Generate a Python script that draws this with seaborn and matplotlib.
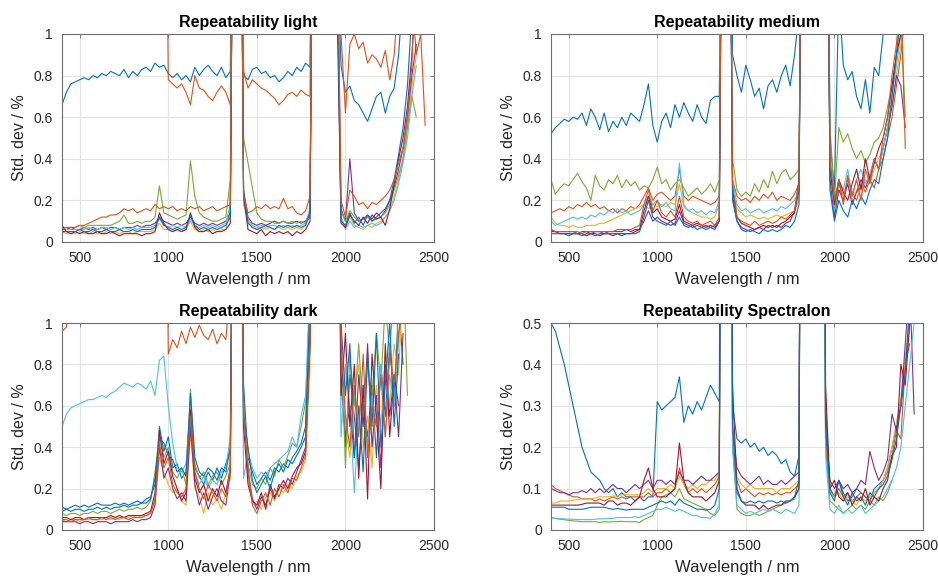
import numpy as np
import matplotlib
matplotlib.use("Agg")
import matplotlib.pyplot as plt
import seaborn as sns
from matplotlib.ticker import FormatStrFormatter, MultipleLocator

sns.set_style("white")
plt.rcParams['font.family'] = ['Liberation Sans', 'DejaVu Sans']

nan = np.nan
OFF = 3.0  # above the visible range (saturated water bands)

wavelength = list(range(400, 2451, 25))

BLUE, ORANGE, YELLOW, PURPLE = '#0072BD', '#D95319', '#EDB120', '#7E2F8E'
GREEN, CYAN, DARKRED = '#77AC30', '#4DBEEE', '#A2142F'

# ---------------- Repeatability light ----------------
L_blue1 = [
0.66,0.72,0.76,0.77,0.78,0.79,0.78,0.80,0.79,0.81,
0.80,0.82,0.81,0.80,0.83,0.79,0.82,0.80,0.83,0.84,
0.82,0.86,0.84,0.85,0.81,0.79,0.81,0.78,0.80,0.77,
0.84,0.80,0.83,0.85,0.82,0.80,0.84,0.79,0.82,OFF,
OFF,0.80,0.78,0.83,0.84,0.81,0.82,0.79,0.80,0.77,
0.79,0.82,0.80,0.84,0.82,0.86,0.84,OFF,OFF,OFF,
OFF,OFF,1.5,0.85,0.72,0.75,0.68,0.66,0.62,0.58,
0.64,0.70,0.72,0.62,0.70,0.74,0.90,1.2,1.5,2.0,
2.0,nan,nan]
L_orange1 = [
OFF,OFF,OFF,OFF,OFF,OFF,OFF,OFF,OFF,OFF,
OFF,OFF,OFF,OFF,OFF,OFF,OFF,OFF,OFF,OFF,
OFF,OFF,OFF,OFF,0.78,0.76,0.74,0.76,0.72,0.66,
0.80,0.74,0.73,0.70,0.68,0.72,0.75,0.72,0.66,OFF,
OFF,0.82,0.74,0.78,0.76,0.74,0.73,0.71,0.69,0.66,
0.68,0.71,0.72,0.70,0.73,0.71,0.70,OFF,OFF,OFF,
OFF,OFF,2.0,1.0,0.62,0.95,1.0,0.93,0.96,0.86,
0.90,0.88,0.84,0.92,0.78,0.90,1.2,1.5,1.5,1.2,
0.9,1.0,0.56]
L_yellow = [
0.05,0.04,0.04,0.04,0.05,0.04,0.04,0.05,0.04,0.04,
0.05,0.04,0.05,0.04,0.05,0.05,0.04,0.05,0.05,0.05,
0.05,0.06,0.09,0.06,0.06,0.05,0.06,0.05,0.06,0.10,
0.06,0.05,0.06,0.05,0.06,0.05,0.06,0.06,0.15,OFF,
OFF,0.18,0.10,0.07,0.06,0.07,0.06,0.07,0.06,0.07,
0.06,0.07,0.06,0.07,0.06,0.08,0.15,OFF,OFF,OFF,
OFF,OFF,1.5,0.12,0.07,0.12,0.08,0.07,0.06,0.08,
0.07,0.09,0.10,0.12,0.15,0.22,0.30,0.40,0.55,0.75,
0.90,nan,nan]
L_purple = [
0.06,0.06,0.07,0.06,0.06,0.07,0.06,0.07,0.06,0.07,
0.06,0.07,0.07,0.06,0.07,0.07,0.07,0.08,0.07,0.08,
0.08,0.09,0.12,0.10,0.09,0.08,0.09,0.08,0.09,0.12,
0.09,0.08,0.09,0.08,0.09,0.08,0.09,0.10,0.14,OFF,
OFF,0.25,0.12,0.09,0.08,0.09,0.08,0.09,0.10,0.09,
0.10,0.09,0.09,0.10,0.09,0.10,0.14,OFF,OFF,OFF,
OFF,OFF,1.7,0.16,0.10,0.40,0.14,0.10,0.11,0.13,
0.11,0.14,0.12,0.15,0.20,0.26,0.35,0.45,0.60,0.80,
0.95,nan,nan]
L_green = [
0.07,0.07,0.07,0.07,0.08,0.07,0.08,0.08,0.08,0.08,
0.08,0.08,0.09,0.10,0.13,0.09,0.09,0.10,0.09,0.10,
0.10,0.12,0.27,0.14,0.13,0.12,0.11,0.12,0.13,0.39,
0.22,0.14,0.12,0.11,0.10,0.10,0.11,0.12,0.30,OFF,
OFF,0.50,0.38,0.26,0.14,0.11,0.10,0.10,0.09,0.09,
0.10,0.09,0.10,0.09,0.10,0.09,0.12,OFF,OFF,OFF,
OFF,OFF,1.6,0.15,0.10,0.15,0.12,0.10,0.11,0.12,
0.10,0.11,0.12,0.14,0.18,0.25,0.32,0.40,0.55,0.70,
0.60,nan,nan]
L_cyan = [
0.06,0.06,0.06,0.06,0.06,0.06,0.07,0.06,0.06,0.07,
0.07,0.06,0.07,0.06,0.07,0.06,0.07,0.06,0.07,0.07,
0.07,0.08,0.11,0.08,0.07,0.08,0.07,0.08,0.07,0.11,
0.08,0.07,0.08,0.07,0.08,0.07,0.08,0.09,0.18,OFF,
OFF,0.20,0.11,0.08,0.07,0.08,0.07,0.08,0.08,0.07,
0.08,0.07,0.08,0.07,0.08,0.09,0.16,OFF,OFF,OFF,
OFF,OFF,1.4,0.12,0.06,0.10,0.07,0.08,0.07,0.08,
0.09,0.08,0.09,0.12,0.15,0.20,0.28,0.38,0.50,0.70,
0.85,nan,nan]
L_darkred = [
0.08,0.05,0.04,0.05,0.04,0.05,0.04,0.04,0.05,0.04,
0.04,0.05,0.04,0.03,0.04,0.04,0.04,0.04,0.03,0.04,
0.04,0.05,0.14,0.09,0.06,0.05,0.06,0.05,0.06,0.14,
0.07,0.05,0.05,0.06,0.04,0.05,0.05,0.06,0.09,OFF,
OFF,0.22,0.06,0.05,0.04,0.06,0.03,0.05,0.04,0.05,
0.04,0.05,0.03,0.05,0.04,0.06,0.10,OFF,OFF,OFF,
OFF,OFF,1.3,0.09,0.07,0.13,0.10,0.08,0.12,0.09,
0.13,0.11,0.12,0.08,0.16,0.28,0.40,0.50,0.65,0.90,
1.20,nan,nan]
L_blue2 = [
0.05,0.05,0.05,0.05,0.06,0.05,0.05,0.06,0.05,0.05,
0.06,0.05,0.05,0.06,0.05,0.05,0.06,0.05,0.06,0.06,
0.06,0.07,0.12,0.08,0.07,0.06,0.07,0.06,0.07,0.13,
0.08,0.06,0.07,0.06,0.07,0.06,0.07,0.08,0.12,OFF,
OFF,0.24,0.09,0.07,0.06,0.07,0.08,0.07,0.06,0.08,
0.07,0.08,0.07,0.08,0.07,0.08,0.14,OFF,OFF,OFF,
OFF,OFF,1.5,0.10,0.08,0.14,0.09,0.12,0.08,0.13,
0.10,0.12,0.14,0.16,0.20,0.30,0.42,0.55,0.75,1.10,
1.50,nan,nan]
L_orange2 = [
0.06,0.07,0.07,0.07,0.08,0.08,0.09,0.10,0.11,0.12,
0.12,0.13,0.13,0.14,0.16,0.15,0.16,0.14,0.15,0.16,
0.15,0.18,0.16,0.17,0.16,0.17,0.15,0.16,0.15,0.17,
0.16,0.17,0.15,0.16,0.17,0.15,0.16,0.17,0.18,OFF,
OFF,0.22,0.14,0.15,0.17,0.16,0.18,0.16,0.17,0.16,
0.21,0.16,0.17,0.14,0.13,0.15,0.22,OFF,OFF,OFF,
OFF,OFF,1.8,0.20,0.12,0.25,0.22,0.18,0.19,0.16,
0.19,0.18,0.20,0.22,0.25,0.30,0.38,0.45,0.60,0.85,
1.50,nan,nan]

# ---------------- Repeatability medium ----------------
M_blue1 = [
0.52,0.55,0.57,0.59,0.58,0.60,0.59,0.62,0.56,0.64,
0.60,0.54,0.62,0.53,0.58,0.55,0.60,0.56,0.62,0.60,
0.58,0.66,0.76,0.56,0.48,0.58,0.62,0.55,0.66,0.60,
0.67,0.62,0.58,0.66,0.60,0.57,0.68,0.70,0.70,OFF,
OFF,0.90,0.80,0.72,0.85,0.78,0.70,0.74,0.64,0.75,
0.78,0.72,0.80,0.85,0.75,0.90,1.10,OFF,OFF,OFF,
OFF,OFF,OFF,0.50,0.25,1.20,0.85,0.78,0.82,0.70,
0.64,0.78,0.62,0.84,0.80,1.00,1.10,1.20,1.50,1.20,
1.00,nan,nan]
M_orange1 = [
0.14,0.15,0.16,0.15,0.17,0.16,0.18,0.17,0.19,0.17,
0.18,0.16,0.17,0.15,0.16,0.14,0.16,0.15,0.17,0.16,
0.18,0.22,0.26,0.20,0.23,0.24,0.22,0.20,0.22,0.35,
0.22,0.20,0.22,0.21,0.20,0.19,0.18,0.19,0.22,OFF,
OFF,0.30,0.22,0.20,0.21,0.19,0.22,0.20,0.23,0.21,
0.24,0.20,0.22,0.21,0.20,0.23,0.28,OFF,OFF,OFF,
OFF,OFF,OFF,0.40,0.15,0.28,0.22,0.30,0.24,0.20,
0.28,0.24,0.30,0.26,0.35,0.40,0.50,0.60,0.75,0.90,
1.10,nan,nan]
M_yellow = [
0.12,0.09,0.08,0.08,0.07,0.08,0.07,0.07,0.08,0.08,
0.08,0.09,0.09,0.10,0.11,0.12,0.13,0.14,0.15,0.16,
0.17,0.18,0.16,0.18,0.17,0.18,0.17,0.19,0.18,0.28,
0.17,0.15,0.14,0.13,0.12,0.12,0.11,0.12,0.18,OFF,
OFF,0.25,0.16,0.14,0.12,0.13,0.12,0.11,0.12,0.11,
0.12,0.13,0.12,0.13,0.14,0.15,0.20,OFF,OFF,OFF,
OFF,OFF,OFF,0.30,0.12,0.25,0.22,0.28,0.20,0.25,
0.22,0.30,0.28,0.35,0.40,0.45,0.55,0.65,0.80,0.95,
1.10,nan,nan]
M_purple = [
0.06,0.05,0.05,0.05,0.05,0.05,0.04,0.05,0.05,0.04,
0.05,0.05,0.04,0.05,0.05,0.05,0.05,0.06,0.05,0.06,
0.06,0.10,0.15,0.10,0.12,0.10,0.09,0.08,0.09,0.15,
0.09,0.08,0.07,0.08,0.07,0.08,0.07,0.06,0.10,OFF,
OFF,0.22,0.10,0.07,0.06,0.05,0.06,0.07,0.06,0.08,
0.07,0.08,0.07,0.09,0.10,0.15,0.30,OFF,OFF,OFF,
OFF,OFF,OFF,0.30,0.12,0.25,0.20,0.28,0.18,0.24,
0.30,0.26,0.32,0.40,0.35,0.45,0.55,0.65,0.80,0.75,
0.55,nan,nan]
M_green = [
0.30,0.23,0.26,0.28,0.27,0.30,0.33,0.29,0.26,0.20,
0.32,0.27,0.25,0.30,0.28,0.32,0.26,0.30,0.27,0.29,
0.25,0.27,0.26,0.30,0.36,0.28,0.30,0.25,0.28,0.30,
0.26,0.22,0.24,0.26,0.23,0.25,0.28,0.24,0.30,OFF,
OFF,0.40,0.25,0.22,0.24,0.22,0.28,0.24,0.30,0.26,
0.34,0.28,0.33,0.35,0.30,0.32,0.35,OFF,OFF,OFF,
OFF,OFF,OFF,0.55,0.20,0.55,0.48,0.52,0.45,0.40,
0.44,0.38,0.42,0.48,0.50,0.55,0.65,0.75,0.90,1.10,
0.60,nan,nan]
M_cyan = [
0.10,0.08,0.09,0.10,0.11,0.12,0.11,0.12,0.11,0.13,
0.12,0.14,0.13,0.15,0.14,0.16,0.14,0.15,0.13,0.14,
0.15,0.18,0.22,0.18,0.20,0.17,0.19,0.16,0.15,0.38,
0.18,0.15,0.16,0.14,0.15,0.13,0.15,0.14,0.20,OFF,
OFF,0.30,0.18,0.15,0.16,0.14,0.15,0.16,0.14,0.15,
0.16,0.15,0.17,0.16,0.18,0.20,0.25,OFF,OFF,OFF,
OFF,OFF,OFF,0.35,0.15,0.30,0.25,0.35,0.22,0.30,
0.35,0.28,0.32,0.40,0.35,0.45,0.55,0.70,0.85,1.00,
1.20,nan,nan]
M_darkred = [
0.05,0.05,0.04,0.04,0.04,0.04,0.04,0.04,0.03,0.04,
0.04,0.03,0.04,0.04,0.03,0.04,0.04,0.04,0.04,0.05,
0.06,0.15,0.22,0.14,0.16,0.12,0.11,0.10,0.11,0.18,
0.10,0.09,0.08,0.09,0.08,0.07,0.08,0.07,0.10,OFF,
OFF,0.25,0.12,0.09,0.08,0.07,0.06,0.07,0.08,0.07,
0.08,0.07,0.09,0.10,0.12,0.14,0.25,OFF,OFF,OFF,
OFF,OFF,OFF,0.35,0.18,0.30,0.24,0.20,0.28,0.35,
0.25,0.40,0.30,0.38,0.45,0.50,0.60,0.75,0.90,1.00,
1.10,nan,nan]
M_blue2 = [
0.04,0.04,0.04,0.04,0.03,0.04,0.04,0.03,0.04,0.04,
0.03,0.04,0.04,0.04,0.04,0.04,0.03,0.04,0.04,0.04,
0.05,0.12,0.20,0.12,0.10,0.09,0.08,0.10,0.08,0.12,
0.08,0.07,0.08,0.06,0.07,0.06,0.07,0.08,0.10,OFF,
OFF,0.20,0.10,0.06,0.05,0.06,0.05,0.04,0.06,0.05,
0.06,0.05,0.06,0.08,0.07,0.10,0.18,OFF,OFF,OFF,
OFF,OFF,OFF,0.25,0.10,0.20,0.15,0.12,0.20,0.16,
0.22,0.18,0.25,0.30,0.28,0.40,0.50,0.70,0.90,1.10,
1.20,nan,nan]
M_orange2 = [
0.06,0.05,0.05,0.05,0.05,0.05,0.05,0.04,0.05,0.05,
0.05,0.05,0.05,0.05,0.05,0.06,0.06,0.06,0.06,0.07,
0.08,0.18,0.25,0.15,0.20,0.14,0.12,0.15,0.12,0.22,
0.12,0.10,0.09,0.10,0.08,0.09,0.10,0.08,0.12,OFF,
OFF,0.28,0.12,0.10,0.09,0.08,0.10,0.08,0.09,0.10,
0.09,0.10,0.12,0.11,0.13,0.15,0.28,OFF,OFF,OFF,
OFF,OFF,OFF,0.40,0.20,0.30,0.18,0.32,0.22,0.30,
0.20,0.35,0.28,0.40,0.35,0.50,0.60,0.80,0.95,1.20,
0.45,nan,nan]

# ---------------- Repeatability dark ----------------
D_blue1 = [
0.11,0.10,0.11,0.12,0.11,0.12,0.11,0.12,0.13,0.12,
0.12,0.12,0.13,0.12,0.13,0.12,0.13,0.14,0.13,0.15,
0.16,0.22,0.50,0.38,0.45,0.30,0.32,0.25,0.28,0.62,
0.30,0.26,0.22,0.28,0.24,0.30,0.25,0.32,0.38,OFF,
OFF,0.70,0.35,0.28,0.22,0.25,0.28,0.24,0.30,0.28,
0.32,0.30,0.35,0.38,0.42,0.50,1.20,OFF,OFF,OFF,
OFF,OFF,OFF,0.85,0.40,0.75,0.55,0.30,0.60,0.45,
0.70,0.35,0.80,0.55,0.90,0.60,1.10,0.80,nan,nan,
nan,nan,nan]
D_orange1 = [
0.96,0.98,1.20,OFF,OFF,OFF,OFF,OFF,OFF,OFF,
OFF,OFF,OFF,OFF,OFF,OFF,OFF,OFF,OFF,OFF,
OFF,OFF,OFF,OFF,0.85,0.92,0.88,0.96,0.90,0.98,
0.93,0.99,0.94,0.92,0.97,0.90,0.95,0.92,1.20,OFF,
OFF,OFF,OFF,OFF,OFF,OFF,OFF,OFF,OFF,OFF,
OFF,OFF,OFF,OFF,OFF,OFF,OFF,OFF,OFF,OFF,
OFF,OFF,OFF,OFF,OFF,OFF,OFF,OFF,OFF,OFF,
OFF,OFF,OFF,OFF,OFF,OFF,OFF,OFF,nan,nan,
nan,nan,nan]
D_yellow = [
0.05,0.04,0.05,0.05,0.04,0.05,0.05,0.05,0.05,0.05,
0.06,0.05,0.06,0.05,0.06,0.06,0.07,0.06,0.07,0.07,
0.08,0.14,0.35,0.28,0.22,0.18,0.20,0.14,0.12,0.48,
0.20,0.16,0.08,0.18,0.12,0.15,0.10,0.18,0.25,OFF,
OFF,0.60,0.25,0.12,0.14,0.10,0.16,0.18,0.14,0.20,
0.18,0.22,0.20,0.26,0.28,0.34,0.80,OFF,OFF,OFF,
OFF,OFF,OFF,0.75,0.50,0.35,0.65,0.80,0.40,0.55,
0.30,0.70,0.50,0.85,0.60,0.90,0.75,1.20,1.00,nan,
nan,nan,nan]
D_purple = [
0.04,0.04,0.04,0.04,0.03,0.04,0.04,0.03,0.04,0.04,
0.04,0.03,0.04,0.04,0.04,0.04,0.05,0.04,0.05,0.05,
0.06,0.12,0.40,0.25,0.30,0.20,0.15,0.18,0.14,0.50,
0.22,0.12,0.18,0.10,0.16,0.20,0.14,0.12,0.28,OFF,
OFF,0.65,0.28,0.15,0.10,0.16,0.12,0.20,0.15,0.22,
0.20,0.25,0.22,0.28,0.34,0.40,0.95,OFF,OFF,OFF,
OFF,OFF,OFF,0.70,0.45,0.60,0.35,0.75,0.50,0.90,
0.40,0.65,0.30,0.80,0.55,0.75,0.45,0.95,nan,nan,
nan,nan,nan]
D_green = [
0.08,0.07,0.08,0.08,0.07,0.08,0.08,0.09,0.08,0.09,
0.09,0.08,0.09,0.10,0.09,0.10,0.10,0.11,0.10,0.11,
0.14,0.28,0.46,0.35,0.40,0.28,0.25,0.30,0.22,0.68,
0.32,0.25,0.28,0.22,0.26,0.28,0.22,0.26,0.32,OFF,
OFF,0.62,0.32,0.22,0.20,0.25,0.22,0.30,0.26,0.34,
0.30,0.36,0.42,0.40,0.50,0.62,1.10,OFF,OFF,OFF,
OFF,OFF,OFF,0.95,0.30,0.85,0.60,0.90,0.55,0.80,
0.65,0.95,0.70,1.10,0.85,1.20,0.90,1.30,0.65,nan,
nan,nan,nan]
D_cyan = [
0.50,0.56,0.59,0.60,0.61,0.62,0.63,0.63,0.64,0.65,
0.64,0.66,0.67,0.69,0.71,0.70,0.69,0.71,0.70,0.68,
0.72,0.65,0.82,0.84,0.60,0.42,0.30,0.28,0.32,0.60,
0.28,0.22,0.26,0.20,0.24,0.22,0.28,0.30,0.45,OFF,
OFF,0.25,0.38,0.30,0.25,0.28,0.26,0.30,0.32,0.34,
0.36,0.38,0.45,0.40,0.55,0.65,1.20,OFF,OFF,OFF,
OFF,OFF,OFF,0.45,0.80,0.60,0.18,0.55,0.70,0.40,
0.65,0.50,0.80,0.45,0.75,0.60,0.90,nan,nan,nan,
nan,nan,nan]
D_darkred = [
0.06,0.06,0.05,0.06,0.06,0.05,0.06,0.06,0.06,0.06,
0.06,0.07,0.06,0.07,0.06,0.07,0.07,0.07,0.07,0.08,
0.09,0.18,0.48,0.32,0.38,0.26,0.20,0.14,0.18,0.58,
0.25,0.18,0.22,0.14,0.20,0.16,0.24,0.18,0.30,OFF,
OFF,0.50,0.22,0.14,0.12,0.18,0.10,0.22,0.16,0.20,
0.24,0.20,0.26,0.30,0.32,0.38,0.90,OFF,OFF,OFF,
OFF,OFF,OFF,0.65,0.95,0.50,0.80,0.25,0.70,0.15,
0.85,0.55,0.20,0.90,0.45,0.75,0.60,nan,nan,nan,
nan,nan,nan]
D_blue2 = [
0.09,0.10,0.09,0.10,0.10,0.09,0.10,0.10,0.11,0.10,
0.11,0.10,0.11,0.11,0.12,0.11,0.12,0.12,0.13,0.13,
0.15,0.25,0.44,0.42,0.36,0.34,0.28,0.30,0.26,0.66,
0.35,0.28,0.26,0.30,0.28,0.24,0.30,0.28,0.40,OFF,
OFF,0.55,0.40,0.24,0.18,0.22,0.26,0.20,0.28,0.32,
0.28,0.34,0.32,0.36,0.40,0.45,1.10,OFF,OFF,OFF,
OFF,OFF,OFF,1.00,0.65,0.90,0.35,0.60,0.28,0.85,
0.50,0.95,0.40,0.70,1.00,0.50,0.85,nan,nan,nan,
nan,nan,nan]
D_orange2 = [
0.05,0.05,0.04,0.05,0.05,0.05,0.06,0.05,0.05,0.06,
0.05,0.06,0.05,0.06,0.06,0.05,0.06,0.06,0.06,0.07,
0.08,0.15,0.42,0.30,0.35,0.22,0.18,0.16,0.20,0.55,
0.28,0.20,0.15,0.22,0.18,0.14,0.20,0.16,0.30,OFF,
OFF,0.55,0.30,0.12,0.08,0.14,0.18,0.12,0.20,0.16,
0.22,0.18,0.25,0.24,0.30,0.36,0.90,OFF,OFF,OFF,
OFF,OFF,OFF,0.90,0.55,0.40,0.70,0.45,0.85,0.35,
0.60,0.50,0.75,0.45,0.85,0.70,0.95,1.10,nan,nan,
nan,nan,nan]

# ---------------- Repeatability Spectralon ----------------
S_blue1 = [
0.50,0.48,0.44,0.40,0.35,0.30,0.25,0.20,0.17,0.14,
0.13,0.12,0.10,0.09,0.10,0.08,0.09,0.08,0.08,0.07,
0.08,0.07,0.08,0.08,0.31,0.29,0.30,0.31,0.32,0.37,
0.26,0.30,0.28,0.31,0.29,0.32,0.35,0.33,0.31,OFF,
OFF,0.30,0.22,0.21,0.22,0.20,0.21,0.19,0.20,0.18,
0.19,0.18,0.16,0.17,0.14,0.13,0.18,OFF,OFF,OFF,
OFF,OFF,0.30,0.10,0.08,0.12,0.09,0.07,0.08,0.10,
0.09,0.08,0.07,0.10,0.11,0.12,0.15,0.20,0.25,0.30,
0.40,0.50,0.60]
S_orange = [
0.11,0.10,0.095,0.09,0.085,0.08,0.08,0.075,0.075,0.075,
0.07,0.075,0.07,0.075,0.08,0.075,0.08,0.075,0.08,0.08,
0.08,0.08,0.09,0.08,0.09,0.09,0.10,0.09,0.10,0.15,
0.11,0.09,0.10,0.09,0.10,0.09,0.10,0.11,0.13,OFF,
OFF,0.20,0.12,0.09,0.10,0.09,0.08,0.09,0.085,0.09,
0.085,0.09,0.085,0.09,0.09,0.10,0.11,OFF,OFF,OFF,
OFF,OFF,0.25,0.10,0.08,0.10,0.08,0.09,0.07,0.08,
0.09,0.08,0.07,0.09,0.10,0.12,0.14,0.18,0.24,0.22,
0.40,0.45,nan]
S_yellow = [
0.065,0.065,0.07,0.07,0.07,0.072,0.073,0.075,0.075,0.075,
0.078,0.08,0.08,0.08,0.082,0.082,0.085,0.085,0.085,0.085,
0.085,0.09,0.10,0.09,0.10,0.10,0.10,0.11,0.10,0.13,
0.11,0.10,0.11,0.10,0.11,0.11,0.12,0.12,0.14,OFF,
OFF,0.22,0.13,0.11,0.10,0.11,0.10,0.10,0.10,0.10,
0.10,0.09,0.10,0.10,0.10,0.11,0.12,OFF,OFF,OFF,
OFF,OFF,0.22,0.09,0.08,0.09,0.07,0.08,0.07,0.06,
0.08,0.07,0.08,0.09,0.10,0.12,0.15,0.20,0.26,0.32,
0.42,0.50,nan]
S_purple = [
0.10,0.095,0.09,0.09,0.085,0.09,0.09,0.095,0.09,0.10,
0.09,0.10,0.09,0.10,0.11,0.10,0.10,0.09,0.10,0.11,
0.10,0.11,0.12,0.10,0.12,0.12,0.11,0.12,0.11,0.14,
0.12,0.12,0.11,0.12,0.13,0.12,0.12,0.13,0.14,OFF,
OFF,0.25,0.15,0.13,0.12,0.11,0.12,0.13,0.11,0.12,
0.11,0.11,0.12,0.11,0.12,0.13,0.14,OFF,OFF,OFF,
OFF,OFF,0.25,0.12,0.10,0.12,0.10,0.11,0.09,0.10,
0.12,0.11,0.19,0.15,0.12,0.14,0.17,0.28,0.24,0.30,
0.45,0.60,0.28]
S_green = [
0.03,0.028,0.026,0.025,0.023,0.022,0.021,0.02,0.02,0.02,
0.02,0.018,0.02,0.019,0.02,0.02,0.021,0.02,0.02,0.02,
0.018,0.025,0.03,0.035,0.06,0.08,0.085,0.09,0.08,0.10,
0.075,0.07,0.065,0.06,0.055,0.05,0.04,0.035,0.05,OFF,
OFF,0.20,0.05,0.04,0.035,0.035,0.04,0.035,0.04,0.045,
0.05,0.055,0.06,0.065,0.07,0.075,0.10,OFF,OFF,OFF,
OFF,OFF,0.20,0.07,0.06,0.05,0.04,0.05,0.06,0.05,
0.06,0.05,0.07,0.06,0.08,0.07,0.09,0.12,nan,nan,
nan,nan,nan]
S_cyan = [
0.03,0.028,0.027,0.027,0.026,0.026,0.025,0.025,0.025,0.025,
0.026,0.027,0.027,0.028,0.028,0.03,0.03,0.03,0.03,0.032,
0.03,0.035,0.04,0.045,0.05,0.05,0.055,0.05,0.045,0.05,
0.045,0.04,0.035,0.035,0.03,0.03,0.028,0.04,0.06,OFF,
OFF,0.20,0.06,0.05,0.04,0.045,0.04,0.045,0.05,0.045,
0.05,0.045,0.04,0.05,0.045,0.04,0.06,OFF,OFF,OFF,
OFF,OFF,0.18,0.05,0.04,0.06,0.04,0.05,0.04,0.05,
0.06,0.04,0.05,0.06,0.07,0.08,0.10,0.12,0.15,0.20,
0.30,0.40,0.50]
S_darkred = [
0.06,0.06,0.06,0.06,0.06,0.06,0.06,0.062,0.065,0.065,
0.065,0.065,0.06,0.07,0.07,0.06,0.065,0.065,0.06,0.07,
0.08,0.12,0.15,0.10,0.08,0.08,0.08,0.09,0.10,0.21,
0.12,0.09,0.08,0.08,0.08,0.07,0.08,0.09,0.12,OFF,
OFF,0.35,0.10,0.07,0.06,0.06,0.06,0.05,0.06,0.05,
0.055,0.06,0.06,0.07,0.07,0.08,0.10,OFF,OFF,OFF,
OFF,OFF,0.35,0.10,0.12,0.08,0.07,0.09,0.06,0.08,
0.07,0.10,0.06,0.08,0.07,0.10,0.12,0.18,0.20,0.40,
0.35,0.50,nan]
S_blue2 = [
0.055,0.055,0.055,0.055,0.05,0.05,0.05,0.05,0.052,0.055,
0.055,0.055,0.055,0.052,0.05,0.052,0.05,0.048,0.05,0.05,
0.05,0.05,0.055,0.06,0.065,0.07,0.065,0.07,0.06,0.075,
0.065,0.06,0.055,0.05,0.05,0.048,0.05,0.06,0.10,OFF,
OFF,0.25,0.09,0.07,0.065,0.07,0.065,0.07,0.065,0.07,
0.07,0.065,0.07,0.065,0.07,0.08,0.12,OFF,OFF,OFF,
OFF,OFF,0.25,0.09,0.07,0.12,0.08,0.06,0.09,0.07,
0.08,0.06,0.09,0.08,0.10,0.11,0.13,0.17,0.22,0.30,
0.38,0.55,nan]

panels = [
    ("Repeatability light", 1.0, 0.2, [0.0661, 0.5806, 0.3966, 0.3605],
     [(L_blue1, BLUE), (L_orange1, ORANGE), (L_yellow, YELLOW), (L_purple, PURPLE),
      (L_green, GREEN), (L_cyan, CYAN), (L_darkred, DARKRED), (L_blue2, BLUE), (L_orange2, ORANGE)]),
    ("Repeatability medium", 1.0, 0.2, [0.5874, 0.5806, 0.3966, 0.3605],
     [(M_blue1, BLUE), (M_orange1, ORANGE), (M_yellow, YELLOW), (M_purple, PURPLE),
      (M_green, GREEN), (M_cyan, CYAN), (M_darkred, DARKRED), (M_blue2, BLUE), (M_orange2, ORANGE)]),
    ("Repeatability dark", 1.0, 0.2, [0.0661, 0.0815, 0.3966, 0.3587],
     [(D_blue1, BLUE), (D_orange1, ORANGE), (D_yellow, YELLOW), (D_purple, PURPLE),
      (D_green, GREEN), (D_cyan, CYAN), (D_darkred, DARKRED), (D_blue2, BLUE), (D_orange2, ORANGE)]),
    ("Repeatability Spectralon", 0.5, 0.1, [0.5874, 0.0815, 0.3966, 0.3587],
     [(S_blue1, BLUE), (S_orange, ORANGE), (S_yellow, YELLOW), (S_purple, PURPLE),
      (S_green, GREEN), (S_cyan, CYAN), (S_darkred, DARKRED), (S_blue2, BLUE)]),
]

TXT = '#262626'
fig = plt.figure(figsize=(9.38, 5.77), dpi=100)
for title, ymax, ystep, rect, series in panels:
    ax = fig.add_axes(rect)
    for vals, col in series:
        assert len(vals) == len(wavelength), (title, len(vals))
        sns.lineplot(x=wavelength, y=vals, ax=ax, color=col, linewidth=0.8,
                     estimator=None, sort=False)
    ax.set_xlim(400, 2500)
    ax.set_ylim(0, ymax)
    ax.xaxis.set_major_locator(MultipleLocator(500))
    ax.yaxis.set_major_locator(MultipleLocator(ystep))
    ax.yaxis.set_major_formatter(FormatStrFormatter('%g'))
    ax.grid(True, color='#e3e3e3', linewidth=0.8)
    ax.set_axisbelow(True)
    for sp in ax.spines.values():
        sp.set_color('#6e6e6e')
        sp.set_linewidth(0.8)
    ax.tick_params(direction='in', top=True, right=True, length=3, width=0.6,
                   color='#6e6e6e', labelcolor=TXT, labelsize=10, pad=6.5)
    ax.set_xlabel("Wavelength / nm", fontsize=12, color=TXT, labelpad=5)
    ax.set_ylabel("Std. dev / %", fontsize=11.5, color=TXT, labelpad=5)
    ax.set_title(title, fontsize=11.5, fontweight='bold', color='black', pad=5)

fig.savefig("out.png", dpi=100)
